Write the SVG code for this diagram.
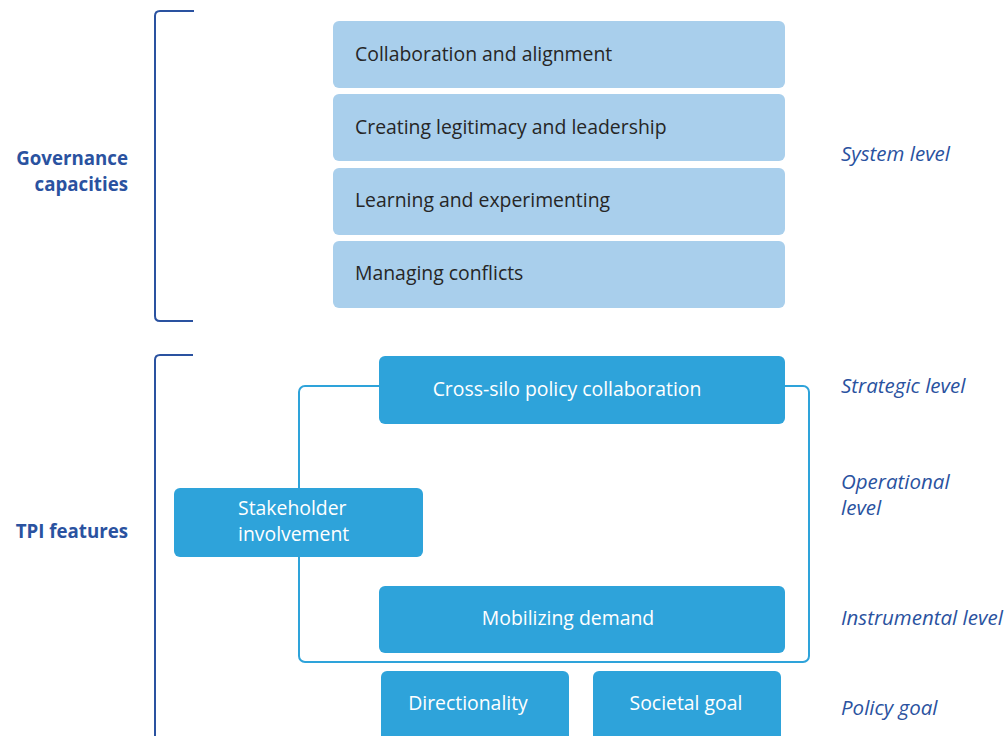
<svg xmlns="http://www.w3.org/2000/svg" width="1007" height="736" viewBox="0 0 1007 736">
<style>
.lb{fill:#a9cfec}
.db{fill:#2ea3da}
.t{font-family:"Open Sans","Noto Sans",sans-serif;font-size:19.4px}
.dk{fill:#262626}
.wh{fill:#ffffff}
.lvl{font-family:"Open Sans","Noto Sans",sans-serif;font-size:20.5px;font-style:italic;fill:#2a52a0}
.hd{font-family:"Open Sans","Noto Sans",sans-serif;font-size:18.7px;font-weight:bold;fill:#2a52a0}
.br{fill:none;stroke:#2a52a0;stroke-width:2}
.cn{fill:none;stroke:#2ea3da;stroke-width:2}
</style>
<rect width="1007" height="736" fill="#ffffff"/>
<g id="brackets">
<path class="br" d="M194 11 H160 Q155 11 155 16 V316 Q155 321 160 321 H193"/>
<path class="br" d="M193 355 H160 Q155 355 155 360 V740"/>
</g>
<g id="headings">
<text class="hd" x="128" y="165" text-anchor="end">Governance</text>
<text class="hd" x="128" y="191" text-anchor="end">capacities</text>
<text class="hd" x="128" y="538" text-anchor="end">TPI features</text>
</g>
<g id="connectors">
<rect class="cn" x="299" y="386" width="510" height="276" rx="6"/>
</g>
<g id="n1"><rect class="lb" x="333" y="21" width="452" height="67" rx="6"/><text class="t dk" x="355" y="61">Collaboration and alignment</text></g>
<g id="n2"><rect class="lb" x="333" y="94" width="452" height="67" rx="6"/><text class="t dk" x="355" y="134">Creating legitimacy and leadership</text></g>
<g id="n3"><rect class="lb" x="333" y="168" width="452" height="67" rx="6"/><text class="t dk" x="355" y="207">Learning and experimenting</text></g>
<g id="n4"><rect class="lb" x="333" y="241" width="452" height="67" rx="6"/><text class="t dk" x="355" y="280">Managing conflicts</text></g>
<g id="n5"><rect class="db" x="379" y="356" width="406" height="68" rx="6"/><text class="t wh" x="567" y="396" text-anchor="middle">Cross-silo policy collaboration</text></g>
<g id="n6"><rect class="db" x="174" y="488" width="249" height="69" rx="6"/><text class="t wh" x="238" y="515">Stakeholder</text><text class="t wh" x="238" y="541">involvement</text></g>
<g id="n7"><rect class="db" x="379" y="586" width="406" height="67" rx="6"/><text class="t wh" x="568" y="625" text-anchor="middle">Mobilizing demand</text></g>
<g id="n8"><rect class="db" x="381" y="671" width="188" height="75" rx="6"/><text class="t wh" x="468" y="710" text-anchor="middle">Directionality</text></g>
<g id="n9"><rect class="db" x="593" y="671" width="188" height="75" rx="6"/><text class="t wh" x="686" y="710" text-anchor="middle">Societal goal</text></g>
<g id="levels">
<text class="lvl" x="841" y="161">System level</text>
<text class="lvl" x="841" y="393">Strategic level</text>
<text class="lvl" x="841" y="489">Operational</text>
<text class="lvl" x="841" y="515">level</text>
<text class="lvl" x="841" y="625">Instrumental level</text>
<text class="lvl" x="841" y="715">Policy goal</text>
</g>
</svg>
